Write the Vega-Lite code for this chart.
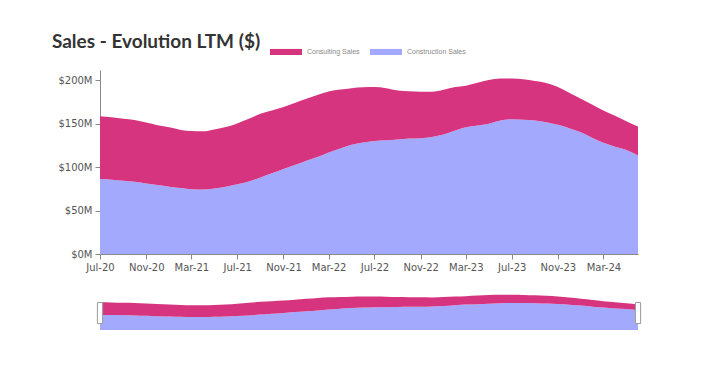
{
  "$schema": "https://vega.github.io/schema/vega-lite/v6.json",
  "background": "white",
  "padding": {"left": 51, "top": 32, "right": 10, "bottom": 5},
  "title": {"text": "Sales - Evolution LTM ($)", "anchor": "start", "font": "Lato", "fontSize": 19, "fontWeight": "bold", "color": "#333333", "offset": -16, "dx": -6},
  "datasets": {
    "sales": [
      {"month": "2020-07-01", "series": "Construction Sales", "value": 86.4}, {"month": "2020-07-01", "series": "Consulting Sales", "value": 72.3},
      {"month": "2020-08-01", "series": "Construction Sales", "value": 85.5}, {"month": "2020-08-01", "series": "Consulting Sales", "value": 72.1},
      {"month": "2020-09-01", "series": "Construction Sales", "value": 84.4}, {"month": "2020-09-01", "series": "Consulting Sales", "value": 71.3},
      {"month": "2020-10-01", "series": "Construction Sales", "value": 83.2}, {"month": "2020-10-01", "series": "Consulting Sales", "value": 71.3},
      {"month": "2020-11-01", "series": "Construction Sales", "value": 81.3}, {"month": "2020-11-01", "series": "Consulting Sales", "value": 70.1},
      {"month": "2020-12-01", "series": "Construction Sales", "value": 79.4}, {"month": "2020-12-01", "series": "Consulting Sales", "value": 69.0},
      {"month": "2021-01-01", "series": "Construction Sales", "value": 77.5}, {"month": "2021-01-01", "series": "Consulting Sales", "value": 68.5},
      {"month": "2021-02-01", "series": "Construction Sales", "value": 76.0}, {"month": "2021-02-01", "series": "Consulting Sales", "value": 67.0},
      {"month": "2021-03-01", "series": "Construction Sales", "value": 74.5}, {"month": "2021-03-01", "series": "Consulting Sales", "value": 67.3},
      {"month": "2021-04-01", "series": "Construction Sales", "value": 74.3}, {"month": "2021-04-01", "series": "Consulting Sales", "value": 67.1},
      {"month": "2021-05-01", "series": "Construction Sales", "value": 75.5}, {"month": "2021-05-01", "series": "Consulting Sales", "value": 68.0},
      {"month": "2021-06-01", "series": "Construction Sales", "value": 77.5}, {"month": "2021-06-01", "series": "Consulting Sales", "value": 68.9},
      {"month": "2021-07-01", "series": "Construction Sales", "value": 80.4}, {"month": "2021-07-01", "series": "Consulting Sales", "value": 70.1},
      {"month": "2021-08-01", "series": "Construction Sales", "value": 83.6}, {"month": "2021-08-01", "series": "Consulting Sales", "value": 72.1},
      {"month": "2021-09-01", "series": "Construction Sales", "value": 88.2}, {"month": "2021-09-01", "series": "Consulting Sales", "value": 73.3},
      {"month": "2021-10-01", "series": "Construction Sales", "value": 92.9}, {"month": "2021-10-01", "series": "Consulting Sales", "value": 72.4},
      {"month": "2021-11-01", "series": "Construction Sales", "value": 97.9}, {"month": "2021-11-01", "series": "Consulting Sales", "value": 71.6},
      {"month": "2021-12-01", "series": "Construction Sales", "value": 102.5}, {"month": "2021-12-01", "series": "Consulting Sales", "value": 71.5},
      {"month": "2022-01-01", "series": "Construction Sales", "value": 107.5}, {"month": "2022-01-01", "series": "Consulting Sales", "value": 71.3},
      {"month": "2022-02-01", "series": "Construction Sales", "value": 112.0}, {"month": "2022-02-01", "series": "Consulting Sales", "value": 71.5},
      {"month": "2022-03-01", "series": "Construction Sales", "value": 117.0}, {"month": "2022-03-01", "series": "Consulting Sales", "value": 70.3},
      {"month": "2022-04-01", "series": "Construction Sales", "value": 121.5}, {"month": "2022-04-01", "series": "Consulting Sales", "value": 68.0},
      {"month": "2022-05-01", "series": "Construction Sales", "value": 126.0}, {"month": "2022-05-01", "series": "Consulting Sales", "value": 65.1},
      {"month": "2022-06-01", "series": "Construction Sales", "value": 128.5}, {"month": "2022-06-01", "series": "Consulting Sales", "value": 63.5},
      {"month": "2022-07-01", "series": "Construction Sales", "value": 130.3}, {"month": "2022-07-01", "series": "Consulting Sales", "value": 62.0},
      {"month": "2022-08-01", "series": "Construction Sales", "value": 131.0}, {"month": "2022-08-01", "series": "Consulting Sales", "value": 60.1},
      {"month": "2022-09-01", "series": "Construction Sales", "value": 132.0}, {"month": "2022-09-01", "series": "Consulting Sales", "value": 56.4},
      {"month": "2022-10-01", "series": "Construction Sales", "value": 133.0}, {"month": "2022-10-01", "series": "Consulting Sales", "value": 54.5},
      {"month": "2022-11-01", "series": "Construction Sales", "value": 133.5}, {"month": "2022-11-01", "series": "Consulting Sales", "value": 53.5},
      {"month": "2022-12-01", "series": "Construction Sales", "value": 134.9}, {"month": "2022-12-01", "series": "Consulting Sales", "value": 52.0},
      {"month": "2023-01-01", "series": "Construction Sales", "value": 137.6}, {"month": "2023-01-01", "series": "Consulting Sales", "value": 51.6},
      {"month": "2023-02-01", "series": "Construction Sales", "value": 142.2}, {"month": "2023-02-01", "series": "Consulting Sales", "value": 50.1},
      {"month": "2023-03-01", "series": "Construction Sales", "value": 146.0}, {"month": "2023-03-01", "series": "Consulting Sales", "value": 47.9},
      {"month": "2023-04-01", "series": "Construction Sales", "value": 148.0}, {"month": "2023-04-01", "series": "Consulting Sales", "value": 49.3},
      {"month": "2023-05-01", "series": "Construction Sales", "value": 150.0}, {"month": "2023-05-01", "series": "Consulting Sales", "value": 50.4},
      {"month": "2023-06-01", "series": "Construction Sales", "value": 153.8}, {"month": "2023-06-01", "series": "Consulting Sales", "value": 48.5},
      {"month": "2023-07-01", "series": "Construction Sales", "value": 155.3}, {"month": "2023-07-01", "series": "Consulting Sales", "value": 47.0},
      {"month": "2023-08-01", "series": "Construction Sales", "value": 154.6}, {"month": "2023-08-01", "series": "Consulting Sales", "value": 46.6},
      {"month": "2023-09-01", "series": "Construction Sales", "value": 153.8}, {"month": "2023-09-01", "series": "Consulting Sales", "value": 45.4},
      {"month": "2023-10-01", "series": "Construction Sales", "value": 151.8}, {"month": "2023-10-01", "series": "Consulting Sales", "value": 45.1},
      {"month": "2023-11-01", "series": "Construction Sales", "value": 148.8}, {"month": "2023-11-01", "series": "Consulting Sales", "value": 43.5},
      {"month": "2023-12-01", "series": "Construction Sales", "value": 144.9}, {"month": "2023-12-01", "series": "Consulting Sales", "value": 40.9},
      {"month": "2024-01-01", "series": "Construction Sales", "value": 140.2}, {"month": "2024-01-01", "series": "Consulting Sales", "value": 38.6},
      {"month": "2024-02-01", "series": "Construction Sales", "value": 133.7}, {"month": "2024-02-01", "series": "Consulting Sales", "value": 38.2},
      {"month": "2024-03-01", "series": "Construction Sales", "value": 128.3}, {"month": "2024-03-01", "series": "Consulting Sales", "value": 37.0},
      {"month": "2024-04-01", "series": "Construction Sales", "value": 123.7}, {"month": "2024-04-01", "series": "Consulting Sales", "value": 35.5},
      {"month": "2024-05-01", "series": "Construction Sales", "value": 119.9}, {"month": "2024-05-01", "series": "Consulting Sales", "value": 33.1},
      {"month": "2024-06-01", "series": "Construction Sales", "value": 113.6}, {"month": "2024-06-01", "series": "Consulting Sales", "value": 33.2}
    ],
    "handles": [{"month": "2020-07-01"}, {"month": "2024-06-01"}]
  },
  "spacing": 21,
  "vconcat": [
    {
      "width": 538,
      "height": 184,
      "data": {"name": "sales"},
      "mark": {"type": "area", "interpolate": "monotone"},
      "encoding": {
        "x": {
          "field": "month", "type": "temporal",
          "scale": {"type": "utc", "nice": false},
          "axis": {
            "title": null, "labelFlush": false, "labelExpr": "utcFormat(datum.value, '%b-%y')",
            "values": [
              {"year": 2020, "month": 7, "date": 1, "utc": true},
              {"year": 2020, "month": 11, "date": 1, "utc": true},
              {"year": 2021, "month": 3, "date": 1, "utc": true},
              {"year": 2021, "month": 7, "date": 1, "utc": true},
              {"year": 2021, "month": 11, "date": 1, "utc": true},
              {"year": 2022, "month": 3, "date": 1, "utc": true},
              {"year": 2022, "month": 7, "date": 1, "utc": true},
              {"year": 2022, "month": 11, "date": 1, "utc": true},
              {"year": 2023, "month": 3, "date": 1, "utc": true},
              {"year": 2023, "month": 7, "date": 1, "utc": true},
              {"year": 2023, "month": 11, "date": 1, "utc": true},
              {"year": 2024, "month": 3, "date": 1, "utc": true}
            ]
          }
        },
        "y": {
          "field": "value", "type": "quantitative", "stack": "zero",
          "scale": {"domain": [0, 212], "nice": false},
          "axis": {"title": null, "values": [0, 50, 100, 150, 200], "labelExpr": "'$' + datum.value + 'M'"}
        },
        "color": {
          "field": "series", "type": "nominal",
          "scale": {"domain": ["Consulting Sales", "Construction Sales"], "range": ["#d6347f", "#a3aafd"]},
          "legend": {
            "title": null, "orient": "none", "direction": "horizontal", "legendX": 170, "legendY": -34.5,
            "symbolType": "M-1,-0.19H1V0.19H-1Z", "symbolSize": 1024, "symbolStrokeWidth": 0,
            "labelFont": "Liberation Sans", "labelFontSize": 7, "labelColor": "#888888", "labelOffset": 5, "columnPadding": 10
          }
        },
        "order": {"field": "series", "sort": "ascending"}
      }
    },
    {
      "width": 538,
      "height": 37,
      "layer": [
        {
          "data": {"name": "sales"},
          "mark": {"type": "area", "interpolate": "monotone"},
          "encoding": {
            "x": {"field": "month", "type": "temporal", "scale": {"type": "utc", "nice": false}, "axis": null},
            "y": {"field": "value", "type": "quantitative", "stack": "zero", "scale": {"domain": [0, 212], "nice": false}, "axis": null},
            "color": {"field": "series", "type": "nominal", "legend": null},
            "order": {"field": "series", "sort": "ascending"}
          }
        },
        {
          "data": {"name": "handles"},
          "mark": {"type": "point", "shape": "M-0.25,-1H0.25V1H-0.25Z", "size": 441, "filled": true, "fill": "white", "stroke": "#999999", "strokeWidth": 1, "opacity": 1},
          "encoding": {
            "x": {"field": "month", "type": "temporal"},
            "y": {"datum": 97}
          }
        }
      ]
    }
  ],
  "config": {
    "view": {"stroke": null},
    "axis": {
      "grid": false, "domainColor": "#8a8a8a", "tickColor": "#8a8a8a", "tickSize": 5,
      "labelColor": "#555555", "labelFont": "DejaVu Sans", "labelFontSize": 10, "labelPadding": 3
    }
  }
}
